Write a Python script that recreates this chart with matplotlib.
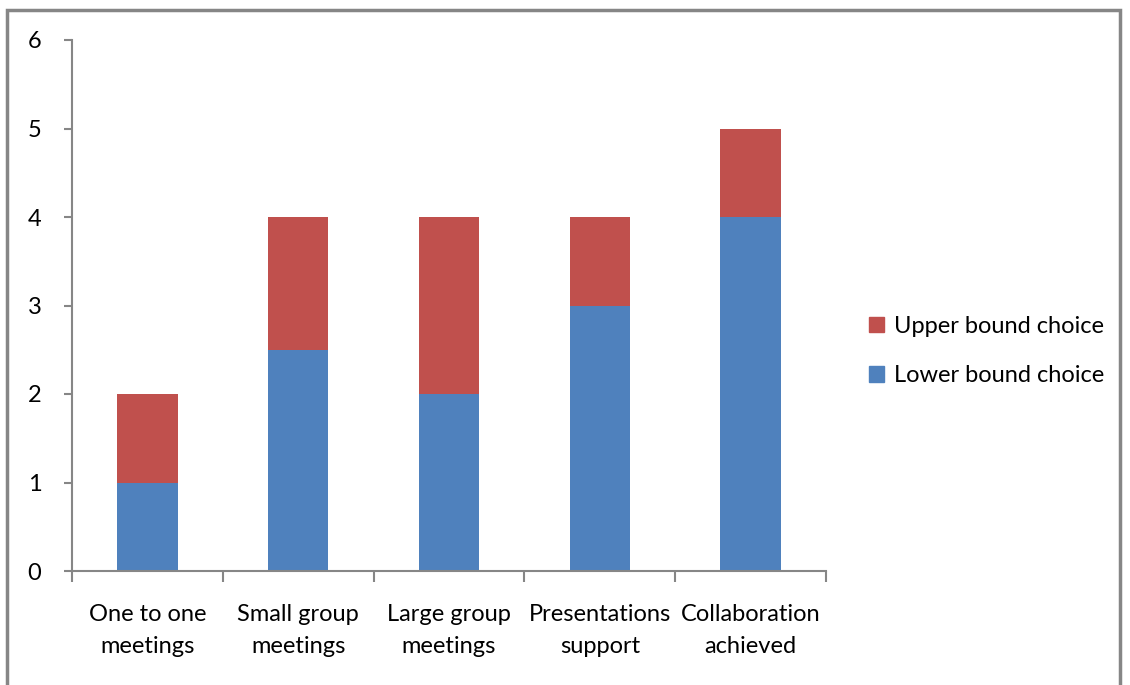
import matplotlib.pyplot as plt
from matplotlib.patches import Rectangle, Patch

categories = ["One to one\nmeetings", "Small group\nmeetings", "Large group\nmeetings",
              "Presentations\nsupport", "Collaboration\nachieved"]
lower_bound = [1, 2.5, 2, 3, 4]
upper_extra = [1, 1.5, 2, 1, 1]
yticks = [0, 1, 2, 3, 4, 5, 6]

blue = "#4F81BD"
red = "#C0504D"
axis_gray = "#868686"
fs = 17

plt.rcParams["font.family"] = ["Lato", "DejaVu Sans"]

fig = plt.figure(figsize=(11.3, 6.85), dpi=100)
ax = fig.add_axes([72 / 1130, 114 / 685, 754 / 1130, 531 / 685])

x = list(range(len(categories)))
ax.bar(x, lower_bound, width=0.4, color=blue, label="Lower bound choice", zorder=2)
ax.bar(x, upper_extra, width=0.4, bottom=lower_bound, color=red,
       label="Upper bound choice", zorder=2)

ax.set_xlim(-0.5, len(categories) - 0.5)
ax.set_ylim(0, 6)
ax.set_yticks(yticks)
ax.set_yticklabels([str(v) for v in yticks], fontsize=fs)

ax.set_xticks([i - 0.5 for i in range(len(categories) + 1)])
ax.set_xticklabels([])
ax.set_xticks(x, minor=True)
ax.set_xticklabels(categories, minor=True, fontsize=fs, linespacing=1.6)
ax.tick_params(axis="x", which="minor", length=0, pad=24)
ax.tick_params(axis="x", which="major", length=8, width=1.5, color=axis_gray, direction="out")
ax.tick_params(axis="y", length=6, width=1.5, color=axis_gray, direction="out", pad=16)

for side in ("top", "right"):
    ax.spines[side].set_visible(False)
for side in ("left", "bottom"):
    ax.spines[side].set_color(axis_gray)
    ax.spines[side].set_linewidth(1.5)

handles = [Patch(color=red, label="Upper bound choice"),
           Patch(color=blue, label="Lower bound choice")]
fig.legend(handles=handles, loc="center left", bbox_to_anchor=(857 / 1130, 1 - 351 / 685),
           frameon=False, fontsize=fs, handlelength=0.65, handleheight=0.65,
           handletextpad=0.4, labelspacing=1.2, borderpad=0)

border = Rectangle((7 / 1130, -0.05), (1120 - 7) / 1130, 1.05 - 10 / 685,
                   transform=fig.transFigure, fill=False, edgecolor=axis_gray,
                   linewidth=2.5)
fig.patches.append(border)

fig.savefig("out.png", dpi=100)
